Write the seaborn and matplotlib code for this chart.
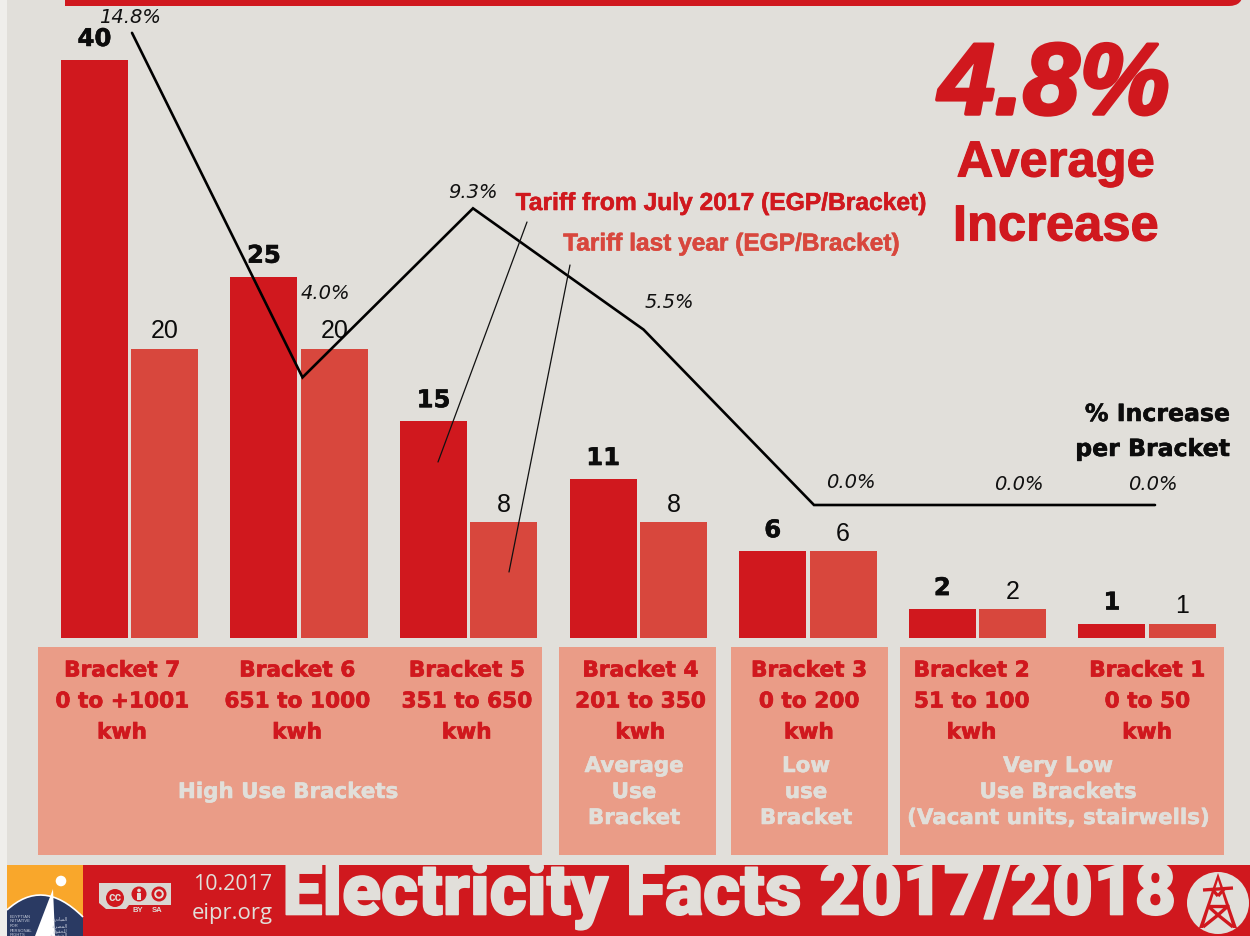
import matplotlib
matplotlib.use("Agg")
import matplotlib.pyplot as plt
import matplotlib.patheffects as pe
from matplotlib.patches import Rectangle, Circle, Polygon, FancyBboxPatch, PathPatch
from matplotlib.path import Path
import pandas as pd
import seaborn as sns

# Tariff per bracket, EGP
brackets = ["Bracket 7", "Bracket 6", "Bracket 5", "Bracket 4", "Bracket 3", "Bracket 2", "Bracket 1"]
ranges = ["0 to +1001", "651 to 1000", "351 to 650", "201 to 350", "0 to 200", "51 to 100", "0 to 50"]
tariff_2017 = [40, 25, 15, 11, 6, 2, 1]
tariff_last_year = [20, 20, 8, 8, 6, 2, 1]
pct_increase = [14.8, 4.0, 9.3, 5.5, 0.0, 0.0, 0.0]

RED = "#D0181E"
RED_LIGHT = "#D8473D"
SALMON = "#EA9C87"
PAPER = "#E1DFDA"

sns.set_theme(style="white")
plt.rcParams["font.family"] = ["Liberation Sans", "DejaVu Sans"]

W, H = 1250, 936
fig = plt.figure(figsize=(W / 100, H / 100), dpi=100, facecolor="#EFEEEB")


def overlay(z):
    ax = fig.add_axes([0, 0, 1, 1], zorder=z)
    ax.set_axis_off()
    ax.patch.set_alpha(0)
    return ax


def heavy(width, color):
    # Thickens a bold face by outlining it in its own colour
    return [pe.withStroke(linewidth=width, foreground=color)]


# Page furniture is laid out in pixels, y pointing down
back = overlay(0)
back.set_xlim(0, W)
back.set_ylim(H, 0)
front = overlay(4)
front.set_xlim(0, W)
front.set_ylim(H, 0)

back.add_patch(Rectangle((7, 0), W - 7, H, color=PAPER, lw=0))
back.add_patch(FancyBboxPatch((65, -40), 1178, 46, boxstyle="round,pad=0,rounding_size=14", color=RED, lw=0))
back.add_patch(Rectangle((65, 0), 40, 6, color=RED, lw=0))

# Bracket panels
for x0, x1 in [(38, 542), (559, 716), (731, 888), (900, 1224)]:
    back.add_patch(Rectangle((x0, 647), x1 - x0, 208, color=SALMON, lw=0))

# Tariff bars
bars = overlay(1)
tidy = pd.DataFrame({
    "bracket": brackets * 2,
    "tariff": tariff_2017 + tariff_last_year,
    "period": ["July 2017"] * 7 + ["Last year"] * 7,
})
sns.barplot(data=tidy, x="bracket", y="tariff", hue="period",
            palette={"July 2017": RED, "Last year": RED_LIGHT},
            width=0.83, gap=0.05, saturation=1, legend=False, linewidth=0, ax=bars)
step = 169.6
unit = 14.45
bars.set_xlim(-129.5 / step, (W - 129.5) / step)
bars.set_ylim((638 - H) / unit, 638 / unit)
bars.set_axis_off()
new_labels = bars.bar_label(bars.containers[0], fmt="%d", padding=6.5, fontsize=17.5,
                            fontweight="bold", family="DejaVu Sans", color="#0c0c0c")
for label in new_labels:
    label.set_path_effects(heavy(0.4, "#0c0c0c"))
bars.bar_label(bars.containers[1], fmt="%d", padding=4, fontsize=18, color="#0c0c0c")

# Bracket captions under each pair of bars
nudge = [-7.5, -2, -2, 2, 1, -6, 0]
for i, (name, rng) in enumerate(zip(brackets, ranges)):
    for text, drop in zip((name, rng, "kwh"), (31, 62, 93)):
        caption = bars.annotate(text, xy=(i, 0), xytext=(nudge[i], -drop - 1.5), textcoords="offset pixels",
                                ha="center", va="center", fontsize=15.6, fontweight="bold",
                                family="DejaVu Sans", color=RED, annotation_clip=False)
        caption.set_path_effects(heavy(0.5, RED))

# Percentage increase line on its own scale
trend = overlay(3)
sns.lineplot(x=list(range(7)), y=pct_increase, color="black", linewidth=1.9,
             errorbar=None, ax=trend, legend=False)
trend.lines[0].set_solid_joinstyle("miter")
pct_unit = 31.9
trend.set_xlim(-132 / 170.5, (W - 132) / 170.5)
trend.set_ylim((505 - H) / pct_unit, 505 / pct_unit)
trend.set_axis_off()
label_offset = [(-2, 15), (23, 84), (0, 16), (26, 27), (37, 22), (34, 20), (-2, 21)]
for i, (value, off) in enumerate(zip(pct_increase, label_offset)):
    trend.annotate(f"{value:.1f}%", xy=(i, value), xytext=off, textcoords="offset pixels",
                   ha="center", va="center", fontsize=14, style="italic",
                   family="DejaVu Sans", color="#111111", annotation_clip=False)

# Headline figure
headline = front.text(1054, 88, "4.8%", ha="center", va="center", fontsize=73, fontweight="bold",
                      style="italic", color=RED)
headline.set_path_effects(heavy(2.5, RED))
for text, y in (("Average", 163), ("Increase", 227)):
    word = front.text(1056, y, text, ha="center", va="center", fontsize=36.5, fontweight="bold", color=RED)
    word.set_path_effects(heavy(0.8, RED))

# Series captions with their leader lines
front.text(721.5, 203, "Tariff from July 2017 (EGP/Bracket)", ha="center", va="center",
           fontsize=17.7, fontweight="bold", color=RED, path_effects=heavy(0.4, RED))
front.text(731, 244, "Tariff last year (EGP/Bracket)", ha="center", va="center",
           fontsize=17.6, fontweight="bold", color=RED_LIGHT, path_effects=heavy(0.4, RED_LIGHT))
front.plot([527, 438], [222, 462], color="#111111", lw=0.9)
front.plot([570, 509], [265, 572], color="#111111", lw=0.9)

for text, y in (("% Increase", 414), ("per Bracket", 449)):
    front.text(1230, y, text, ha="right", va="center", fontsize=17, fontweight="bold",
               family="DejaVu Sans", color="#0c0c0c", path_effects=heavy(0.4, "#0c0c0c"))

# Use groups inside the panels
groups = [
    (288, ["", "High Use Brackets", ""]),
    (634, ["Average", "Use", "Bracket"]),
    (806, ["Low", "use", "Bracket"]),
    (1058, ["Very Low", "Use Brackets", "(Vacant units, stairwells)"]),
]
for cx, lines in groups:
    for text, y in zip(lines, (766, 792, 818)):
        back.text(cx, y, text, ha="center", va="center", fontsize=15.4, fontweight="bold",
                  family="DejaVu Sans", color=PAPER, path_effects=heavy(0.4, PAPER))

# Footer band
back.add_patch(FancyBboxPatch((83, 865), 1200, 120, boxstyle="round,pad=0,rounding_size=24", color=RED, lw=0))
back.add_patch(Rectangle((83, 865), 40, 71, color=RED, lw=0))
title = back.text(729, 895, "Electricity Facts 2017/2018", ha="center", va="center", fontsize=51.5,
                  fontweight=900, family="Roboto", color=PAPER)
title.set_path_effects(heavy(1.2, PAPER))
back.text(233, 885, "10.2017", ha="center", va="center", fontsize=15.4, family="Open Sans", color=PAPER)
back.text(232, 914, "eipr.org", ha="center", va="center", fontsize=15.9, family="Open Sans", color=PAPER)

# Creative Commons badge
back.add_patch(Polygon([(99, 883), (171, 883), (171, 905), (129, 905), (126, 909), (106, 909), (99, 903)],
                       color="#D9D6D1", lw=0))
back.add_patch(Circle((115, 898), 9, color=RED, lw=0))
back.text(115, 898, "cc", ha="center", va="center", fontsize=8.5, fontweight="bold", color=PAPER)
back.add_patch(Circle((139, 894), 7.5, color=RED, lw=0))
back.add_patch(Circle((139, 890.5), 1.8, color=PAPER, lw=0))
back.add_patch(Rectangle((137.2, 892.5), 3.6, 7, color=PAPER, lw=0))
back.add_patch(Circle((159, 894), 7.5, color=RED, lw=0))
back.add_patch(Circle((159, 894), 3.8, fill=False, ec=PAPER, lw=1.4))
back.text(138, 911, "BY", ha="center", va="center", fontsize=5.5, fontweight="bold", color=PAPER)
back.text(157, 911, "SA", ha="center", va="center", fontsize=5.5, fontweight="bold", color=PAPER)

# Publisher logo
back.add_patch(Rectangle((7, 865), 76, 71, color="#F9A72B", lw=0))
outline = [(7, 910), (30, 889), (55, 889), (83, 917)]
dome = Path(outline + [(83, 936), (7, 936), (7, 910)],
            [Path.MOVETO, Path.CURVE4, Path.CURVE4, Path.CURVE4, Path.LINETO, Path.LINETO, Path.CLOSEPOLY])
back.add_patch(PathPatch(dome, fc="#2A3A63", ec="none", lw=0))
arc = Path(outline, [Path.MOVETO, Path.CURVE4, Path.CURVE4, Path.CURVE4])
back.add_patch(PathPatch(arc, fc="none", ec="white", lw=1.2))
back.add_patch(Polygon([(53, 889), (35, 936), (55, 936)], color="white", lw=0))
back.add_patch(Circle((61, 881), 5.3, color="white", lw=0))
for text, y in zip(["EGYPTIAN", "INITIATIVE", "FOR", "PERSONAL", "RIGHTS"], (917, 921.5, 926, 931, 935)):
    back.text(10, y, text, ha="left", va="center", fontsize=3, color="#C9CEDC", clip_on=True)
arabic = ["\uFE93\uFEAD\uFEA9\uFE8E\uFE92\uFEE4\uFEDF\uFE8D",
          "\uFE94\uFEF3\uFEAE\uFEBC\uFEE4\uFEDF\uFE8D",
          "\uFED5\uFEEE\uFED8\uFEA4\uFEE0\uFEDF",
          "\uFE94\uFEF4\uFEBC\uFEA8\uFEB8\uFEDF\uFE8D"]
for text, y in zip(arabic, (919, 925.5, 930.5, 935)):
    back.text(68, y, text, ha="right", va="center", fontsize=3.4, family="DejaVu Sans",
              color="#C9CEDC", clip_on=True)

# Pylon emblem
back.add_patch(Circle((1218, 903), 31, color=PAPER, lw=0))
back.add_patch(Polygon([(1218, 873), (1199, 928), (1203, 928), (1218, 880), (1233, 928), (1237, 928)],
                       color=RED, lw=0))
pylon = [
    ([1203, 1233], [890, 888]),
    ([1207, 1229], [906, 906]),
    ([1208, 1218], [906, 915]), ([1228, 1218], [906, 915]),
    ([1203, 1218], [927, 915]), ([1233, 1218], [927, 915]),
    ([1212, 1218], [889, 896]), ([1224, 1218], [889, 896]),
]
for xs, ys in pylon:
    back.plot(xs, ys, color=RED, lw=2.4, solid_capstyle="butt")

fig.savefig("out.png", dpi=100, facecolor=fig.get_facecolor())
